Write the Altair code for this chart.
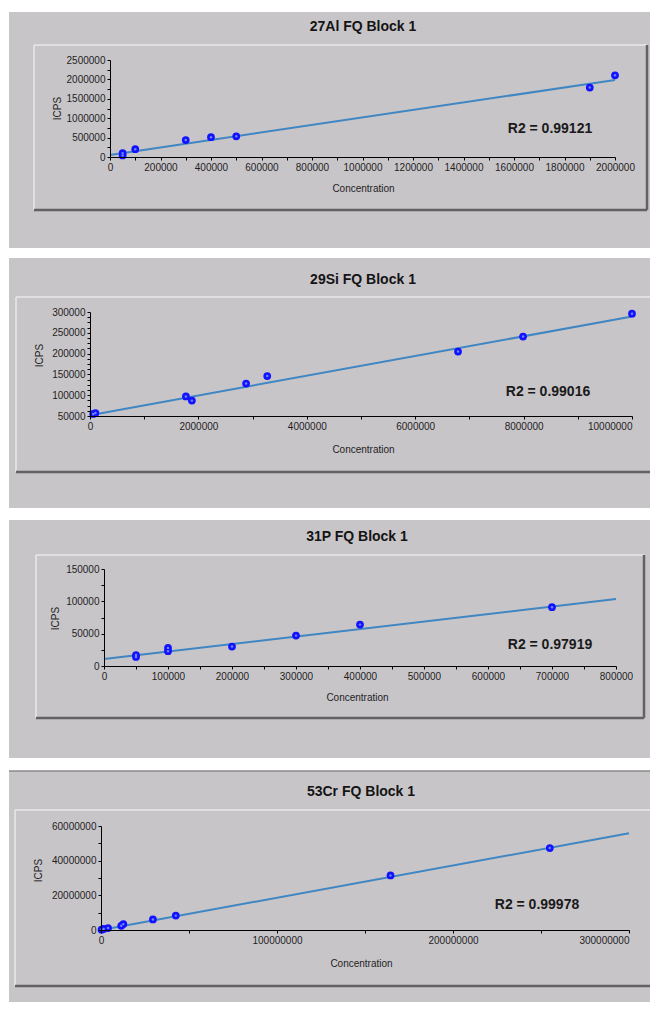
import altair as alt
import pandas as pd

# ---------------- data ----------------
al_conc = [50000, 50000, 100000, 300000, 400000, 500000, 1900000, 2000000]
al_icps = [40000, 100000, 200000, 438000, 510000, 533000, 1790000, 2105000]
al_fit_c = [0, 2000000]
al_fit_i = [52000, 1985000]

si_conc = [60000, 100000, 1770000, 1880000, 2880000, 3270000, 6790000, 7990000, 10000000]
si_icps = [55000, 57000, 97000, 87000, 128000, 146000, 205000, 241000, 296000]
si_fit_c = [0, 10000000]
si_fit_i = [52000, 289000]

p_conc = [50000, 50000, 100000, 100000, 200000, 300000, 400000, 700000]
p_icps = [14000, 17000, 23000, 28000, 30000, 47000, 64000, 91000]
p_fit_c = [0, 800000]
p_fit_i = [10800, 103600]

cr_conc = [300000, 1500000, 4000000, 11500000, 12700000, 29500000, 42500000, 164500000, 255000000]
cr_icps = [200000, 600000, 1100000, 2400000, 3400000, 6100000, 8300000, 31500000, 47300000]
cr_fit_c = [0, 300000000]
cr_fit_i = [0, 55800000]

titles = ["27Al FQ Block 1", "29Si FQ Block 1", "31P FQ Block 1", "53Cr FQ Block 1"]
r2_texts = ["R2 = 0.99121", "R2 = 0.99016", "R2 = 0.97919", "R2 = 0.99978"]

# tick values (all ticks) and label steps
al_xticks = list(range(0, 2000001, 100000)); al_xstep = 200000
al_yticks = list(range(0, 2500001, 250000)); al_ystep = 500000
si_xticks = list(range(0, 10000001, 1000000)); si_xstep = 2000000
si_yticks = list(range(50000, 300001, 12500)); si_ystep = 50000
p_xticks = list(range(0, 800001, 50000)); p_xstep = 100000
p_yticks = list(range(0, 150001, 25000)); p_ystep = 50000
cr_xticks = list(range(0, 300000001, 50000000)); cr_xstep = 100000000
cr_yticks = list(range(0, 60000001, 10000000)); cr_ystep = 20000000

# ---------------- style / layout (page pixel positions) ----------------
W = 642
TOTAL_H = 994
X0, Y0 = 8, 8          # where the chart's origin lands on the page
BG = "#c8c5c9"
FONT = "Liberation Sans"

panels = [
    dict(gy=(12, 248), box=(34, 45, 647, 210), rb=True, title=(363, 27),
         xr=[110, 615], yr=[157, 60], r2=(550, 129), ytl=(57, 108), xtl=(363, 188),
         xdom=[0, 2000000], ydom=[0, 2500000], conc=al_conc, icps=al_icps,
         fc=al_fit_c, fi=al_fit_i, xt=al_xticks, xs=al_xstep, yt=al_yticks, ys=al_ystep,
         topline=False, lastright=False),
    dict(gy=(258, 508), box=(16, 297, 660, 472), rb=False, title=(363, 280),
         xr=[90, 632], yr=[416, 312], r2=(548, 392), ytl=(39, 355), xtl=(363, 449),
         xdom=[0, 10000000], ydom=[50000, 300000], conc=si_conc, icps=si_icps,
         fc=si_fit_c, fi=si_fit_i, xt=si_xticks, xs=si_xstep, yt=si_yticks, ys=si_ystep,
         topline=False, lastright=True),
    dict(gy=(520, 758), box=(36, 555, 644, 718), rb=True, title=(357, 537),
         xr=[104, 616], yr=[666, 569], r2=(550, 645), ytl=(55, 618), xtl=(357, 697),
         xdom=[0, 800000], ydom=[0, 150000], conc=p_conc, icps=p_icps,
         fc=p_fit_c, fi=p_fit_i, xt=p_xticks, xs=p_xstep, yt=p_yticks, ys=p_ystep,
         topline=False, lastright=False),
    dict(gy=(771, 1010), box=(15, 810, 660, 986), rb=False, title=(361, 792),
         xr=[101, 629], yr=[930, 826], r2=(537, 905), ytl=(38, 870), xtl=(361, 963),
         xdom=[0, 300000000], ydom=[0, 60000000], conc=cr_conc, icps=cr_icps,
         fc=cr_fit_c, fi=cr_fit_i, xt=cr_xticks, xs=cr_xstep, yt=cr_yticks, ys=cr_ystep,
         topline=True, lastright=True),
]

AXIS_STYLE = dict(
    grid=False, zindex=5, labelFont=FONT, labelFontSize=10, labelColor="#1e1e1e",
    labelOverlap=False, labelFlush=False, labelBound=False, labelPadding=2,
    domainColor="#000000", domainWidth=1, tickColor="#000000", tickSize=3, tickWidth=1,
    titleFont=FONT, titleFontSize=10, titleFontWeight="normal", titleColor="#1e1e1e",
    titlePadding=0, format="d", titleAlign="center", titleBaseline="middle",
    minExtent=0, maxExtent=0,
)


def lx(v):
    return min(max(v - X0, 0), W)


def ly(v):
    return min(max(v - Y0, 0), TOTAL_H)


def make_panel(p, title, r2):
    one = pd.DataFrame({"k": [0]})
    pts = pd.DataFrame({"Concentration": p["conc"], "ICPS": p["icps"]})
    fit = pd.DataFrame({"Concentration": p["fc"], "ICPS": p["fi"]})

    xr = [lx(v) for v in p["xr"]]
    yr = [ly(v) for v in p["yr"]]
    xscale = alt.Scale(domain=p["xdom"], range=xr, nice=False, zero=False)
    yscale = alt.Scale(domain=p["ydom"], range=yr, nice=False, zero=False)
    xextra = {}
    if p["lastright"]:
        xextra["labelAlign"] = {"condition": {"test": f"datum.value >= {p['xdom'][1]}",
                                              "value": "right"},
                                "value": "center"}
    xaxis = alt.Axis(values=p["xt"], orient="bottom",
                     labelExpr=f"datum.value % {p['xs']} == 0 ? datum.label : ''",
                     offset=yr[0] - TOTAL_H, title="Concentration",
                     titleX=lx(p["xtl"][0]), titleY=p["xtl"][1] - p["yr"][0],
                     **AXIS_STYLE, **xextra)
    yaxis = alt.Axis(values=p["yt"], orient="left",
                     labelExpr=f"(datum.value - {p['ydom'][0]}) % {p['ys']} == 0 ? datum.label : ''",
                     offset=-xr[0], title="ICPS",
                     titleX=p["ytl"][0] - p["xr"][0], titleY=ly(p["ytl"][1]),
                     **AXIS_STYLE)

    gy0, gy1 = ly(p["gy"][0]), ly(p["gy"][1])
    bx0, by0, bx1, by1 = lx(p["box"][0]), ly(p["box"][1]), lx(p["box"][2]), ly(p["box"][3])
    layers = [
        alt.Chart(one).mark_rect(color=BG).encode(
            x=alt.value(1), x2=alt.value(W), y=alt.value(gy0), y2=alt.value(gy1)),
        alt.Chart(one).mark_rule(color="#e9e7ea", strokeWidth=1.5).encode(
            x=alt.value(bx0), x2=alt.value(bx1), y=alt.value(by0)),
        alt.Chart(one).mark_rule(color="#e9e7ea", strokeWidth=1.5).encode(
            x=alt.value(bx0), y=alt.value(by0), y2=alt.value(by1)),
        alt.Chart(one).mark_rule(color="#626262", strokeWidth=2.5).encode(
            x=alt.value(bx0), x2=alt.value(bx1), y=alt.value(by1)),
    ]
    if p["rb"]:
        layers.append(alt.Chart(one).mark_rule(color="#626262", strokeWidth=2.5).encode(
            x=alt.value(bx1), y=alt.value(by0), y2=alt.value(by1)))
    if p["topline"]:
        layers.append(alt.Chart(one).mark_rule(color="#8a8a8a", strokeWidth=1.5).encode(
            x=alt.value(1), x2=alt.value(W), y=alt.value(gy0)))
    layers += [
        alt.Chart(one).mark_text(text=title, font=FONT, fontSize=14, fontWeight="bold",
                                 color="#141414", align="center", baseline="middle").encode(
            x=alt.value(lx(p["title"][0])), y=alt.value(ly(p["title"][1]))),
        alt.Chart(one).mark_text(text=r2, font=FONT, fontSize=14, fontWeight="bold",
                                 color="#1a1a1a", align="center", baseline="middle").encode(
            x=alt.value(lx(p["r2"][0])), y=alt.value(ly(p["r2"][1]))),
        alt.Chart(fit).mark_line(color="#3f86c2", strokeWidth=2).encode(
            x=alt.X("Concentration:Q", scale=xscale, axis=xaxis),
            y=alt.Y("ICPS:Q", scale=yscale, axis=yaxis)),
        alt.Chart(pts).mark_circle(color="#1212ff", opacity=1, size=60).encode(
            x=alt.X("Concentration:Q", scale=xscale, axis=xaxis),
            y=alt.Y("ICPS:Q", scale=yscale, axis=yaxis)),
        alt.Chart(pts).mark_circle(color="#6c86ff", opacity=1, size=6).encode(
            x=alt.X("Concentration:Q", scale=xscale, axis=xaxis),
            y=alt.Y("ICPS:Q", scale=yscale, axis=yaxis)),
    ]
    return alt.layer(*layers)


charts = [make_panel(p, t, r) for p, t, r in zip(panels, titles, r2_texts)]

chart = alt.layer(*charts).resolve_scale(
    x="independent", y="independent"
).resolve_axis(
    x="independent", y="independent"
).properties(
    width=W, height=TOTAL_H, padding=0, background="white",
    autosize=alt.AutoSizeParams(type="none"),
).configure_view(strokeWidth=0)

chart.save("out.html", embed_options={"renderer": "svg", "actions": False})
